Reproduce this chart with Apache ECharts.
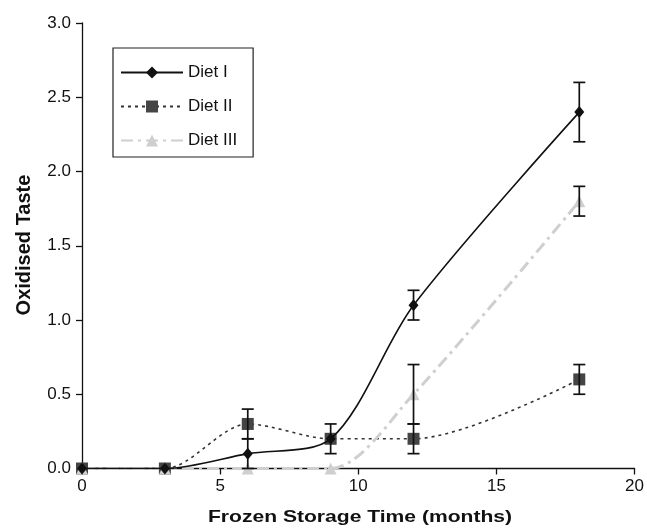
<!DOCTYPE html>
<html><head><meta charset="utf-8">
<script src="https://cdn.jsdelivr.net/npm/echarts@6/dist/echarts.min.js"></script>
<style>html,body{margin:0;padding:0;background:#fff}#c{width:647px;height:528px}</style>
</head><body><div id="c"></div>
<script>
const months = [0, 3, 6, 9, 12, 18];
const diet1 = [0, 0, 0.1, 0.2, 1.1, 2.4];
const diet2 = [0, 0, 0.3, 0.2, 0.2, 0.6];
const diet3 = [0, 0, 0, 0, 0.5, 1.8];
const diet1Err = [0, 0, 0.1, 0, 0.1, 0.2];
const diet2Err = [0, 0, 0.1, 0.1, 0.1, 0.1];
const diet3Err = [0, 0, 0, 0, 0.2, 0.1];
const seriesNames = ['Diet I', 'Diet II', 'Diet III'];
const xTitle = 'Frozen Storage Time (months)';
const yTitle = 'Oxidised Taste';

const font = 'Liberation Sans, Arial, sans-serif';
function pairs(vals){ return months.map((m,i)=>[m, vals[i]]); }
function errData(vals, errs){
  const out = [];
  months.forEach((m,i)=>{ if (errs[i] > 0) out.push([m, vals[i]-errs[i], vals[i]+errs[i]]); });
  return out;
}
function errSeries(vals, errs){
  return {
    type: 'custom', silent: true, z: 5,
    data: errData(vals, errs),
    renderItem: function(params, api){
      const x = api.value(0);
      const lo = api.coord([x, api.value(1)]);
      const hi = api.coord([x, api.value(2)]);
      const w = 6;
      const st = {stroke: '#111', lineWidth: 1.7};
      return {type: 'group', children: [
        {type: 'line', shape: {x1: lo[0], y1: lo[1], x2: hi[0], y2: hi[1]}, style: st},
        {type: 'line', shape: {x1: lo[0]-w, y1: lo[1], x2: lo[0]+w, y2: lo[1]}, style: st},
        {type: 'line', shape: {x1: hi[0]-w, y1: hi[1], x2: hi[0]+w, y2: hi[1]}, style: st}
      ]};
    }
  };
}

const chart = echarts.init(document.getElementById('c'), null, {renderer: 'canvas'});
chart.setOption({
  animation: false,
  backgroundColor: '#fff',
  grid: {left: 82, right: 9, top: 23, bottom: 59.5},
  legend: {
    orient: 'vertical', left: 113, top: 48,
    data: seriesNames,
    itemWidth: 62, itemHeight: 15, itemGap: 17,
    padding: [16, 16, 8, 7],
    borderColor: '#222', borderWidth: 1.2,
    textStyle: {fontFamily: font, fontSize: 17, color: '#111'}
  },
  xAxis: {
    type: 'value', min: 0, max: 20, interval: 5,
    axisLine: {lineStyle: {color: '#111', width: 1.3}},
    axisTick: {show: true, length: 6, lineStyle: {color: '#111', width: 1.3}},
    splitLine: {show: false},
    axisLabel: {fontFamily: font, fontSize: 17, color: '#111', margin: 9}
  },
  yAxis: {
    type: 'value', min: 0, max: 3, interval: 0.5,
    axisLine: {show: true, lineStyle: {color: '#111', width: 1.3}},
    axisTick: {show: true, length: 6, lineStyle: {color: '#111', width: 1.3}},
    splitLine: {show: false},
    axisLabel: {fontFamily: font, fontSize: 17, color: '#111', margin: 11,
      formatter: v => v.toFixed(1)}
  },
  graphic: [
    {type: 'text', x: 360, y: 517, scaleX: 1.24, origin: [0, 0],
      style: {text: xTitle, font: 'bold 17px ' + font, fill: '#111',
        align: 'center', verticalAlign: 'middle'}},
    {type: 'text', x: 24, y: 245, rotation: Math.PI/2, origin: [0, 0],
      style: {text: yTitle, font: 'bold 20px ' + font, fill: '#111',
        align: 'center', verticalAlign: 'middle'}}
  ],
  series: [
    {
      name: 'Diet I', type: 'line', data: pairs(diet1), smooth: 0.3, z: 4,
      symbol: 'diamond', symbolSize: [10, 12],
      itemStyle: {color: '#111'},
      lineStyle: {color: '#111', width: 1.6, type: 'solid'}
    },
    {
      name: 'Diet II', type: 'line', data: pairs(diet2), smooth: 0.3, z: 3,
      symbol: 'rect', symbolSize: 12,
      itemStyle: {color: '#454545'},
      lineStyle: {color: '#333', width: 1.6, type: [3, 4]}
    },
    {
      name: 'Diet III', type: 'line', data: pairs(diet3), smooth: 0.3, z: 3,
      symbol: 'triangle', symbolSize: 12,
      itemStyle: {color: '#cfcfcf'},
      lineStyle: {color: '#cfcfcf', width: 3, type: [12, 5, 3, 5]}
    },
    errSeries(diet1, diet1Err),
    errSeries(diet2, diet2Err),
    errSeries(diet3, diet3Err)
  ]
});
</script>
</body></html>
